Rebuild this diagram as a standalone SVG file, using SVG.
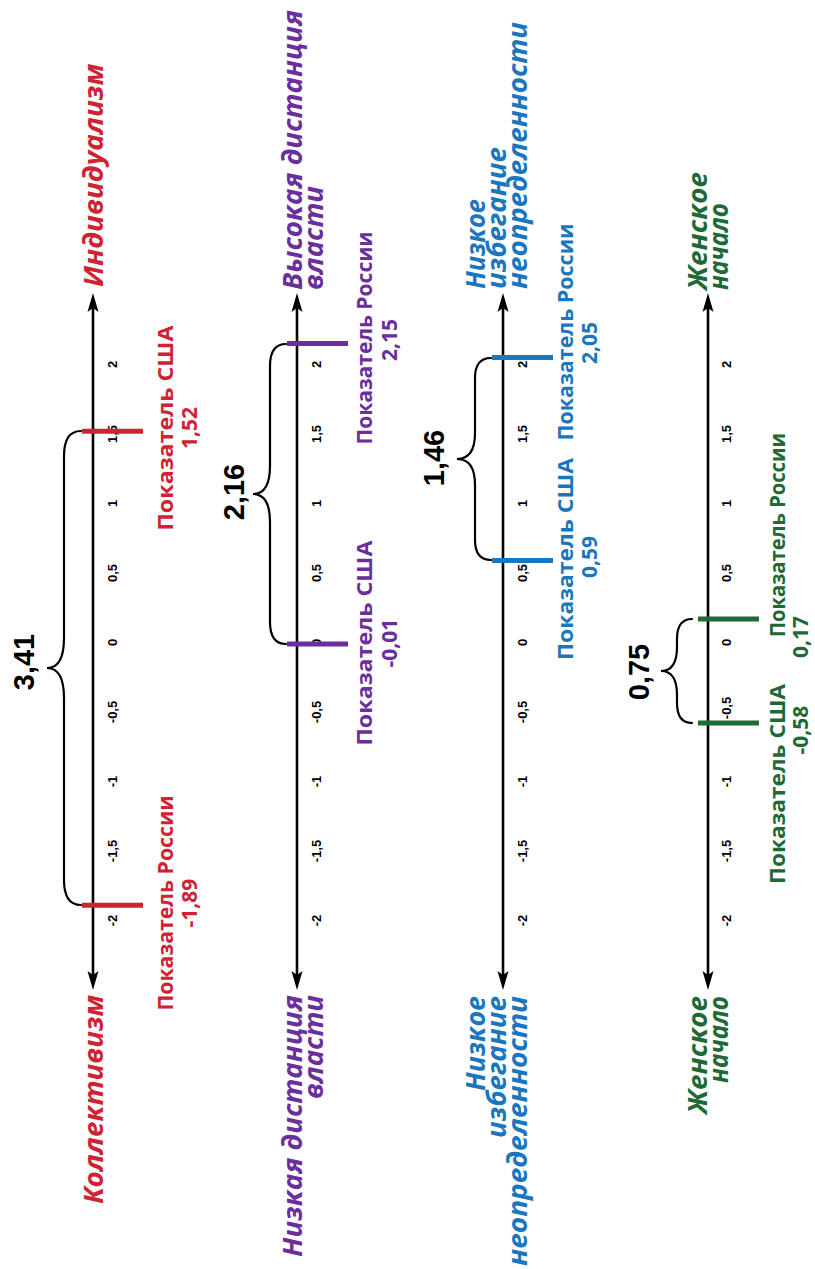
<svg xmlns="http://www.w3.org/2000/svg" width="815" height="1269" viewBox="0 0 815 1269">
<style>
.ax{stroke:#000;stroke-width:2.6;fill:none}
.ah{fill:#000}
.br{stroke:#000;stroke-width:2.2;fill:none;stroke-linecap:round}
.tk{font-family:"Liberation Sans",Arial,sans-serif;font-weight:bold;font-size:13px;fill:#000;text-anchor:middle}
.big{font-family:"Liberation Sans",Arial,sans-serif;font-weight:bold;font-size:29px;fill:#000;text-anchor:middle}
.ttl{font-family:"Open Sans","Noto Sans",sans-serif;font-weight:bold;font-style:italic;font-size:27px}
.lbl{font-family:"Open Sans","Noto Sans",sans-serif;font-weight:bold;font-size:21px;text-anchor:middle}
.red{fill:#cf2334}.purple{fill:#6a2e9d}.blue{fill:#1b76c0}.green{fill:#1e6a36}
.mred{stroke:#cf2334;stroke-width:5}.mpurple{stroke:#6a2e9d;stroke-width:5}.mblue{stroke:#1b76c0;stroke-width:5}.mgreen{stroke:#1e6a36;stroke-width:5}
</style>

<!-- Axis 1: Individualism -->
<g id="axis1">
<line class="ax" x1="93" y1="305" x2="93" y2="978"/>
<path class="ah" d="M93,293 L98.5,312 L93,308 L87.5,312 Z"/>
<path class="ah" d="M93,990 L98.5,971 L93,975 L87.5,971 Z"/>
<g class="tk">
<text transform="translate(117,364.5) rotate(-90)">2</text>
<text transform="translate(117,434) rotate(-90)">1,5</text>
<text transform="translate(117,503.5) rotate(-90)">1</text>
<text transform="translate(117,573) rotate(-90)">0,5</text>
<text transform="translate(117,642.5) rotate(-90)">0</text>
<text transform="translate(117,712) rotate(-90)">-0,5</text>
<text transform="translate(117,781.5) rotate(-90)">-1</text>
<text transform="translate(117,851) rotate(-90)">-1,5</text>
<text transform="translate(117,920.5) rotate(-90)">-2</text>
</g>
</g>
<g id="title-individualism"><text class="ttl red" transform="translate(103,287) rotate(-90)" textLength="223" lengthAdjust="spacingAndGlyphs">Индивидуализм</text></g>
<g id="title-collectivism"><text class="ttl red" text-anchor="end" transform="translate(103,995) rotate(-90)" textLength="209" lengthAdjust="spacingAndGlyphs">Коллективизм</text></g>
<g id="usa1">
<line class="mred" x1="82" y1="431.2" x2="143" y2="431.2"/>
<text class="lbl red" transform="translate(173,428) rotate(-90)" textLength="205" lengthAdjust="spacingAndGlyphs">Показатель США</text>
<text class="lbl red" transform="translate(197,428) rotate(-90)">1,52</text>
</g>
<g id="russia1">
<line class="mred" x1="82" y1="905.2" x2="143" y2="905.2"/>
<text class="lbl red" transform="translate(173,903) rotate(-90)" textLength="215" lengthAdjust="spacingAndGlyphs">Показатель России</text>
<text class="lbl red" transform="translate(197,903) rotate(-90)">-1,89</text>
</g>
<g id="diff1"><text class="big" transform="translate(34,662) rotate(-90)">3,41</text></g>

<!-- Axis 2: Power distance -->
<g id="axis2">
<line class="ax" x1="297" y1="305" x2="297" y2="978"/>
<path class="ah" d="M297,293 L302.5,312 L297,308 L291.5,312 Z"/>
<path class="ah" d="M297,990 L302.5,971 L297,975 L291.5,971 Z"/>
<g class="tk">
<text transform="translate(321,364.5) rotate(-90)">2</text>
<text transform="translate(321,434) rotate(-90)">1,5</text>
<text transform="translate(321,503.5) rotate(-90)">1</text>
<text transform="translate(321,573) rotate(-90)">0,5</text>
<text transform="translate(321,642.5) rotate(-90)">0</text>
<text transform="translate(321,712) rotate(-90)">-0,5</text>
<text transform="translate(321,781.5) rotate(-90)">-1</text>
<text transform="translate(321,851) rotate(-90)">-1,5</text>
<text transform="translate(321,920.5) rotate(-90)">-2</text>
</g>
</g>
<g id="title-high-pd">
<text class="ttl purple" transform="translate(302,290) rotate(-90)" textLength="280" lengthAdjust="spacingAndGlyphs">Высокая дистанция</text>
<text class="ttl purple" transform="translate(323,290) rotate(-90)" textLength="104" lengthAdjust="spacingAndGlyphs">власти</text>
</g>
<g id="title-low-pd">
<text class="ttl purple" text-anchor="end" transform="translate(302,995) rotate(-90)" textLength="262" lengthAdjust="spacingAndGlyphs">Низкая дистанция</text>
<text class="ttl purple" text-anchor="end" transform="translate(323,995) rotate(-90)" textLength="104" lengthAdjust="spacingAndGlyphs">власти</text>
</g>
<g id="russia2">
<line class="mpurple" x1="287" y1="343.6" x2="348" y2="343.6"/>
<text class="lbl purple" transform="translate(372,338) rotate(-90)" textLength="213" lengthAdjust="spacingAndGlyphs">Показатель России</text>
<text class="lbl purple" transform="translate(397,340) rotate(-90)">2,15</text>
</g>
<g id="usa2">
<line class="mpurple" x1="287" y1="643.9" x2="348" y2="643.9"/>
<text class="lbl purple" transform="translate(372,643) rotate(-90)" textLength="205" lengthAdjust="spacingAndGlyphs">Показатель США</text>
<text class="lbl purple" transform="translate(397,643) rotate(-90)">-0,01</text>
</g>
<g id="diff2"><text class="big" transform="translate(244,492) rotate(-90)">2,16</text></g>

<!-- Axis 3: Uncertainty avoidance -->
<g id="axis3">
<line class="ax" x1="503" y1="305" x2="503" y2="978"/>
<path class="ah" d="M503,293 L508.5,312 L503,308 L497.5,312 Z"/>
<path class="ah" d="M503,990 L508.5,971 L503,975 L497.5,971 Z"/>
<g class="tk">
<text transform="translate(527,364.5) rotate(-90)">2</text>
<text transform="translate(527,434) rotate(-90)">1,5</text>
<text transform="translate(527,503.5) rotate(-90)">1</text>
<text transform="translate(527,573) rotate(-90)">0,5</text>
<text transform="translate(527,642.5) rotate(-90)">0</text>
<text transform="translate(527,712) rotate(-90)">-0,5</text>
<text transform="translate(527,781.5) rotate(-90)">-1</text>
<text transform="translate(527,851) rotate(-90)">-1,5</text>
<text transform="translate(527,920.5) rotate(-90)">-2</text>
</g>
</g>
<g id="title-ua-top">
<text class="ttl blue" transform="translate(485,289) rotate(-90)" textLength="90" lengthAdjust="spacingAndGlyphs">Низкое</text>
<text class="ttl blue" transform="translate(506,289) rotate(-90)" textLength="142" lengthAdjust="spacingAndGlyphs">избегание</text>
<text class="ttl blue" transform="translate(527,289) rotate(-90)" textLength="267" lengthAdjust="spacingAndGlyphs">неопределенности</text>
</g>
<g id="title-ua-bottom">
<text class="ttl blue" text-anchor="end" transform="translate(485,996) rotate(-90)" textLength="95" lengthAdjust="spacingAndGlyphs">Низкое</text>
<text class="ttl blue" text-anchor="end" transform="translate(506,996) rotate(-90)" textLength="142" lengthAdjust="spacingAndGlyphs">избегание</text>
<text class="ttl blue" text-anchor="end" transform="translate(527,996) rotate(-90)" textLength="270" lengthAdjust="spacingAndGlyphs">неопределенности</text>
</g>
<g id="russia3">
<line class="mblue" x1="492" y1="357.5" x2="553" y2="357.5"/>
<text class="lbl blue" transform="translate(573,332) rotate(-90)" textLength="217" lengthAdjust="spacingAndGlyphs">Показатель России</text>
<text class="lbl blue" transform="translate(597,343) rotate(-90)">2,05</text>
</g>
<g id="usa3">
<line class="mblue" x1="492" y1="560.5" x2="553" y2="560.5"/>
<text class="lbl blue" transform="translate(573,559) rotate(-90)" textLength="202" lengthAdjust="spacingAndGlyphs">Показатель США</text>
<text class="lbl blue" transform="translate(597,557) rotate(-90)">0,59</text>
</g>
<g id="diff3"><text class="big" transform="translate(444,458) rotate(-90)">1,46</text></g>

<!-- Axis 4: Feminine -->
<g id="axis4">
<line class="ax" x1="708" y1="305" x2="708" y2="978"/>
<path class="ah" d="M708,293 L713.5,312 L708,308 L702.5,312 Z"/>
<path class="ah" d="M708,990 L713.5,971 L708,975 L702.5,971 Z"/>
<g class="tk">
<text transform="translate(731,364.5) rotate(-90)">2</text>
<text transform="translate(731,434) rotate(-90)">1,5</text>
<text transform="translate(731,503.5) rotate(-90)">1</text>
<text transform="translate(731,573) rotate(-90)">0,5</text>
<text transform="translate(731,642.5) rotate(-90)">0</text>
<text transform="translate(731,708) rotate(-90)">-0,5</text>
<text transform="translate(731,781.5) rotate(-90)">-1</text>
<text transform="translate(731,851) rotate(-90)">-1,5</text>
<text transform="translate(731,920.5) rotate(-90)">-2</text>
</g>
</g>
<g id="title-fem-top">
<text class="ttl green" transform="translate(707,290) rotate(-90)" textLength="118" lengthAdjust="spacingAndGlyphs">Женское</text>
<text class="ttl green" transform="translate(728,290) rotate(-90)" textLength="87" lengthAdjust="spacingAndGlyphs">начало</text>
</g>
<g id="title-fem-bottom">
<text class="ttl green" text-anchor="end" transform="translate(707,996) rotate(-90)" textLength="118" lengthAdjust="spacingAndGlyphs">Женское</text>
<text class="ttl green" text-anchor="end" transform="translate(728,996) rotate(-90)" textLength="87" lengthAdjust="spacingAndGlyphs">начало</text>
</g>
<g id="russia4">
<line class="mgreen" x1="698" y1="619" x2="759" y2="619"/>
<text class="lbl green" transform="translate(785,535) rotate(-90)" textLength="204" lengthAdjust="spacingAndGlyphs">Показатель России</text>
<text class="lbl green" text-anchor="start" transform="translate(808,637) rotate(-90)">0,17</text>
</g>
<g id="usa4">
<line class="mgreen" x1="698" y1="723" x2="759" y2="723"/>
<text class="lbl green" transform="translate(785,784) rotate(-90)" textLength="200" lengthAdjust="spacingAndGlyphs">Показатель США</text>
<text class="lbl green" transform="translate(808,730) rotate(-90)">-0,58</text>
</g>
<g id="diff4"><text class="big" transform="translate(649,672) rotate(-90)">0,75</text></g>

<!-- Connectors: braces -->
<g id="connectors">
<path class="br" d="M81,431 Q64,431 64,456 L64,638 Q64,668 47,668 Q64,668 64,698 L64,880 Q64,905 81,905"/>
<path class="br" d="M286,344 Q270,344 270,366 L270,466 Q270,494 253,494 Q270,494 270,522 L270,622 Q270,644 286,644"/>
<path class="br" d="M491,358 Q475,358 475,378 L475,433 Q475,459 457,459 Q475,459 475,485 L475,540 Q475,560 491,560"/>
<path class="br" d="M692,619 Q677,619 677,639 L677,647 Q677,671 661,671 Q677,671 677,695 L677,703 Q677,723 692,723"/>
</g>
</svg>
